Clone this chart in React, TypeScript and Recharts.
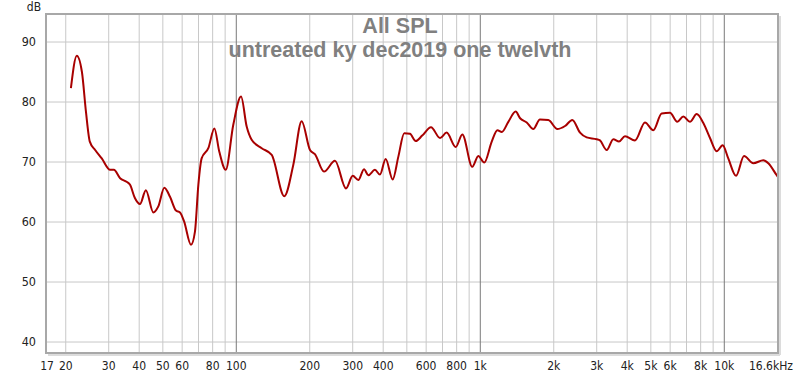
import React from 'react';
import { LineChart, Line, XAxis, YAxis, CartesianGrid, ReferenceLine } from 'recharts';

const freqs = [
  21.0, 22.2, 23.3, 24.2, 25.1, 26.4, 28.1, 30.4, 31.5, 33.4, 35.5, 36.7, 38.4, 40.3, 42.6, 45.7, 47.9, 50.7,
  53.5, 56.6, 58.8, 61.1, 65.2, 67.7, 69.9, 72.1, 76.8, 81.3, 85.2, 90.5, 97.2, 104.6, 110.3, 115.6, 127.1,
  139.7, 157.3, 171.2, 185.3, 200.5, 210, 228.8, 253.8, 281.6, 300, 316.3, 333.8, 347.6, 370, 388, 409.4,
  437.5, 461.5, 488, 515, 543.6, 578, 628, 684, 728, 793, 844, 927, 981.5, 1038, 1114, 1175, 1225, 1303,
  1396, 1456, 1550, 1649, 1756, 1900, 2069, 2225, 2383, 2563, 2729, 3000, 3094, 3297, 3508, 3702, 3918,
  4306, 4731, 5118, 5537, 5989, 6416, 6793, 7231, 7708, 8206, 8738, 9307, 9849, 10383, 11170, 12045,
  13149, 14452, 15148, 16397, 16600,
];

const splValues = [
  82.3, 87.7, 85.0, 78.4, 73.4, 72.0, 70.6, 68.7, 68.7, 67.3, 66.7, 66.2, 64.0, 63.0, 65.3, 61.6, 62.6, 65.7,
  64.2, 61.9, 61.6, 60.1, 56.2, 58.4, 66.2, 70.6, 72.3, 75.6, 71.7, 68.7, 76.2, 80.9, 75.9, 73.7, 72.3,
  71.2, 64.3, 69.5, 76.8, 72.0, 71.3, 68.4, 70.2, 65.6, 67.7, 67.0, 68.8, 67.8, 68.7, 67.9, 70.5,
  67.1, 70.9, 74.8, 74.7, 73.5, 74.4, 75.8, 74.0, 74.9, 72.5, 74.6, 69.2, 71.0, 69.9, 73.4, 75.3, 75.0, 76.7,
  78.4, 77.3, 76.6, 75.5, 77.1, 77.0, 75.5, 76.0, 77.0, 74.9, 74.1, 73.8, 73.6, 72.0, 73.8, 73.4, 74.3,
  73.6, 76.6, 75.3, 78.1, 78.2, 76.7, 77.6, 76.7, 78.0, 76.5, 74.0, 71.8, 72.8, 70.6, 67.7, 71.0,
  69.8, 70.3, 69.8, 67.8, 67.5,
];

const xTicks = [16.6, 20, 30, 40, 50, 60, 80, 100, 200, 300, 400, 600, 800, 1000, 2000, 3000, 4000, 5000, 6000, 8000, 10000, 16600];
const xTickLabels = ['17', '20', '30', '40', '50', '60', '80', '100', '200', '300', '400', '600', '800', '1k', '2k', '3k', '4k', '5k', '6k', '8k', '10k', '16.6kHz'];
const minorGrid = [20, 30, 40, 50, 60, 70, 80, 90, 200, 300, 400, 500, 600, 700, 800, 900, 2000, 3000, 4000, 5000, 6000, 7000, 8000, 9000];
const majorGrid = [100, 1000, 10000];
const yTicks = [40, 50, 60, 70, 80, 90];

const titleLine1 = 'All SPL';
const titleLine2 = 'untreated ky dec2019 one twelvth';

const data = freqs.map((f, i) => ({ f, spl: splValues[i] }));

const FONT = "'Liberation Sans Narrow', 'Arial Narrow', 'DejaVu Sans Condensed', 'Liberation Sans', sans-serif";

const XTick = (props: any) => {
  const { x, y, payload } = props;
  const idx = xTicks.indexOf(payload.value);
  const label = idx >= 0 ? xTickLabels[idx] : String(payload.value);
  const shift = payload.value === 16600 ? -7 : payload.value === 16.6 ? 1 : 0;
  return (
    <text x={x + shift} y={y} dy="0.71em" textAnchor="middle" fontSize={12} fill="#222" fontFamily={FONT}>
      {label}
    </text>
  );
};

export default function App() {
  return (
    <div style={{ position: 'absolute', left: 0, top: 0, width: 800, height: 374, background: '#fff' }}>
      <LineChart width={800} height={374} data={data} margin={{ top: 14, right: 22, bottom: 0, left: 0 }}>
        <CartesianGrid vertical={false} stroke="#c8c8c8" />
        {minorGrid.map((g) => (
          <ReferenceLine key={'m' + g} x={g} stroke="#c8c8c8" strokeWidth={1} ifOverflow="hidden" />
        ))}
        {majorGrid.map((g) => (
          <ReferenceLine key={'M' + g} x={g} stroke="#7a7a7a" strokeWidth={1} ifOverflow="hidden" />
        ))}
        <XAxis
          dataKey="f"
          type="number"
          scale="log"
          domain={[16.6, 16600]}
          ticks={xTicks}
          interval={0}
          allowDataOverflow
          axisLine={false}
          tickLine={false}
          height={21}
          tick={<XTick />}
        />
        <YAxis
          type="number"
          domain={[38.17, 94.67]}
          ticks={yTicks}
          interval={0}
          allowDataOverflow
          axisLine={false}
          tickLine={false}
          width={46}
          tickMargin={4}
          tick={{ fontSize: 12.5, fill: '#222', fontFamily: FONT }}
        />
        <Line
          type="monotone"
          dataKey="spl"
          stroke="#a80000"
          strokeWidth={2}
          dot={false}
          isAnimationActive={false}
        />
      </LineChart>
      <svg width={800} height={374} style={{ position: 'absolute', left: 0, top: 0, pointerEvents: 'none' }}>
        <line x1={780} y1={16} x2={780} y2={355} stroke="#dcdcdc" strokeWidth={2} />
        <line x1={48} y1={355} x2={780} y2={355} stroke="#dcdcdc" strokeWidth={2} />
        <rect x={46} y={14} width={732} height={339} fill="none" stroke="#a8a8a8" strokeWidth={2} />
        <text x={34} y={10.5} textAnchor="middle" fontSize={12} fill="#222" fontFamily={FONT}>dB</text>
        <text x={400} y={33} textAnchor="middle" fontSize={21.5} fontWeight="bold" fill="#808080" fontFamily="'Liberation Sans', Arial, sans-serif">
          {titleLine1}
        </text>
        <text x={400} y={56.5} textAnchor="middle" fontSize={21.5} fontWeight="bold" fill="#808080" fontFamily="'Liberation Sans', Arial, sans-serif">
          {titleLine2}
        </text>
      </svg>
    </div>
  );
}
